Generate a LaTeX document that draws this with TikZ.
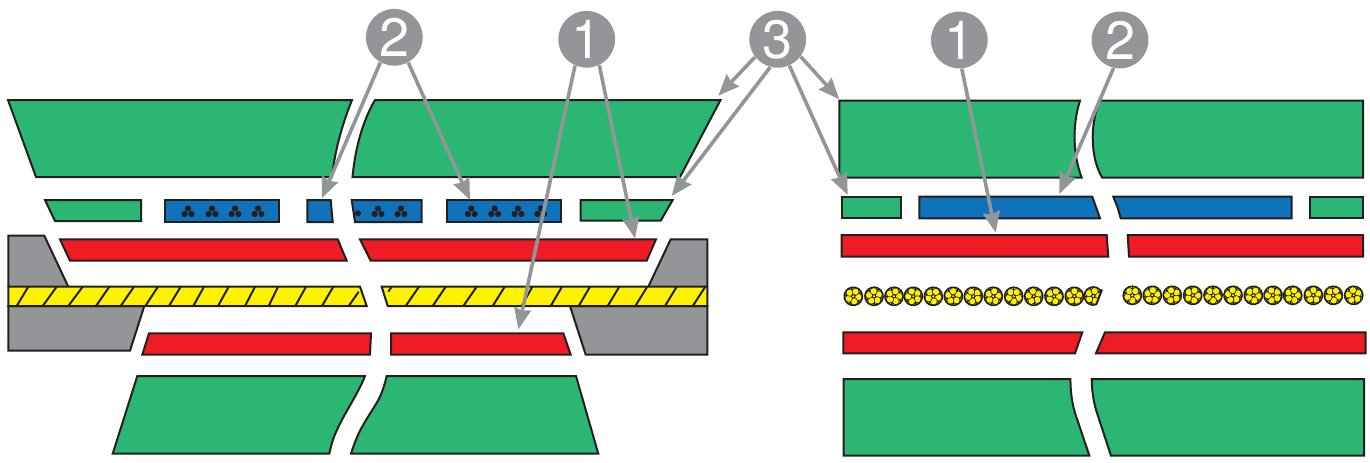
\documentclass[tikz,border=0pt]{standalone}
\usepackage{fontspec}
\setmainfont{TeX Gyre Heros}
\usetikzlibrary{arrows.meta}
\definecolor{gr}{HTML}{2BB673}
\definecolor{bl}{HTML}{1072BA}
\definecolor{rd}{HTML}{EF1C25}
\definecolor{ye}{HTML}{FFF200}
\definecolor{gy}{HTML}{939598}
\definecolor{ink}{HTML}{231F20}
\tikzset{
  part/.style={draw=ink,line width=1pt,line join=miter},
  greenpart/.style={part,fill=gr},
  bluepart/.style={part,fill=bl},
  redpart/.style={part,fill=rd},
  greypart/.style={part,fill=gy},
  yellowpart/.style={part,fill=ye},
  hatch/.style={draw=ink,line width=1pt},
  badge/.style={circle,fill=gy,minimum size=28.4pt,inner sep=0pt,text=white,font=\fontsize{27}{27}\selectfont},
  pointer/.style={draw=gy,line width=1.8pt,-{Stealth[length=10.5pt,width=8.5pt,inset=1pt]}},
  wiredot/.style={fill=ink,draw=none},
}
\newcommand{\triad}[1]{\begin{scope}[shift={#1}]
  \fill[wiredot] (0,-3.5) circle (3.1);
  \fill[wiredot] (-3.4,2) circle (3.1);
  \fill[wiredot] (3.4,2) circle (3.1);
\end{scope}}
\newcommand{\strand}[2]{\begin{scope}[shift={(#1)},rotate=#2]
  \fill[ink] (0,0) circle (9.9);
  \fill[ye] (0,0) circle (8.2);
  \foreach \a in {54,126,198,270,342} {\draw[draw=ink,line width=0.7pt] (\a:3.5) -- (\a:8.5);}
  \fill[ink] (0,0) circle (3);
  \fill[ye] (0,0) circle (1.3);
  \foreach \a in {18,90,162,234,306} {\fill[ink] (\a:5.1) circle (3.9);\fill[ye] (\a:5.1) circle (3.1);}
\end{scope}}
\begin{document}
\begin{tikzpicture}[x=0.5pt,y=-0.5pt]
\useasboundingbox (0,0) rectangle (1370,462);
% left: jacket top
\draw[greenpart] (8,100) -- (352,100) .. controls (342,125) and (335,150) .. (332,177) -- (36,177) -- cycle;
\draw[greenpart] (375,100) -- (720.5,100) -- (680,177) -- (352.5,177) .. controls (355,150) and (362,122) .. (375,100) -- cycle;
% left: second row
\draw[greenpart] (45,200) -- (141,200) -- (141,221) -- (55,221) -- cycle;
\draw[bluepart] (165,200) -- (279,200) -- (279,222) -- (165,222) -- cycle;
\draw[bluepart] (307.3,200) -- (330.7,200) -- (332.7,222) -- (307.3,222) -- cycle;
\draw[bluepart] (351.7,200) -- (421.7,200) -- (421.7,222) -- (355,222) -- cycle;
\draw[bluepart] (447.3,200) -- (561,200) -- (561,222) -- (447.3,222) -- cycle;
\draw[greenpart] (580.7,200) -- (672.7,200) -- (660.7,220.7) -- (580.7,220.7) -- cycle;
\foreach \x in {188,212,235,258,378,401,471.3,494.7,518,540.7} {\triad{(\x,212)}}
\fill[wiredot] (358,213.3) circle (3);
% left: red
\draw[redpart] (60,239.3) -- (337.7,239.3) -- (346.7,260.7) -- (70,260.7) -- cycle;
\draw[redpart] (360,239.3) -- (656,239.3) -- (646.7,260.7) -- (370.7,260.7) -- cycle;
% left: grey
\draw[greypart] (68.3,286.7) -- (44.3,235.7) -- (8.3,235.7) -- (8.3,286.7);
\draw[greypart] (8.3,306) -- (144.3,306) -- (130,350.7) -- (8.3,350.7) -- cycle;
\draw[greypart] (648.3,286.7) -- (670.7,239.3) -- (707.3,239.3) -- (707.3,286.7);
\draw[greypart] (570,306) -- (707.3,306) -- (707.3,354.7) -- (585.7,354.7) -- cycle;
% left: yellow
\draw[yellowpart] (8.3,286.7) -- (360,286.7) -- (366.7,306) -- (8.3,306) -- cycle;
\draw[yellowpart] (381.7,286.7) -- (707.3,286.7) -- (707.3,306) -- (387.7,306) -- cycle;
\foreach \b/\t in {16.7/28.3,42.7/56.7,68.3/82.7,96/109.3,120.7/134,145.3/158,169/180.7,193.3/204,218/228.7,245/255,268.7/278,295.3/306,322/333.3}
  {\draw[hatch] (\b,306) -- (\t,286.7);}
\draw[hatch] (348.7,306) -- (358.7,291.7);
\draw[hatch] (388.3,291.7) -- (391.7,286.7);
\foreach \b/\t in {405.7/419,432.7/445.7,463.3/476.7,492.7/504.7,521.7/532.3,550.7/562,578.7/590,607.7/619.3,635.3/647.3,665/676.7,692.7/705.3}
  {\draw[hatch] (\b,306) -- (\t,286.7);}
% left: lower red
\draw[redpart] (149,333.3) -- (371,333.3) -- (370,354.7) -- (142.3,354.7) -- cycle;
\draw[redpart] (391,333.3) -- (563.3,333.3) -- (570.7,354.7) -- (391,354.7) -- cycle;
% left: bottom jacket
\draw[greenpart] (137.3,376) -- (365,376) .. controls (358,394) and (345,412) .. (337,430) .. controls (333,438) and (331,446) .. (329.3,453.7) -- (112.7,453.7) -- cycle;
\draw[greenpart] (386.7,376) -- (576,376) -- (598.3,453.7) -- (351,453.7) .. controls (354,444) and (358,434) .. (362,427) .. controls (368,416) and (376,405) .. (380,396.7) .. controls (383,390) and (385,383) .. (386.7,376) -- cycle;
% right: top jacket
\draw[greenpart] (839.3,100.7) -- (1080,100.7) .. controls (1072,125) and (1073,155) .. (1081.7,177.7) -- (839.3,177.7) -- cycle;
\draw[greenpart] (1100,100.7) -- (1363,100.7) -- (1363,177.7) -- (1102.3,177.7) .. controls (1091,160) and (1089,125) .. (1100,100.7) -- cycle;
% right: second row
\draw[greenpart] (841.7,196.7) -- (900.7,196.7) -- (900.7,218.3) -- (841.7,218.3) -- cycle;
\draw[bluepart] (919.3,196.7) -- (1092.3,196.7) -- (1100,218.3) -- (919.3,218.3) -- cycle;
\draw[bluepart] (1113.3,196.7) -- (1291.7,196.7) -- (1291.7,218.3) -- (1120.7,218.3) -- (1117.5,207) -- cycle;
\draw[greenpart] (1310,196.7) -- (1363,196.7) -- (1363,218.3) -- (1310,218.3) -- cycle;
% right: red
\draw[redpart] (841.7,235) -- (1106.7,235) -- (1108.3,256.7) -- (841.7,256.7) -- cycle;
\draw[redpart] (1127.7,235) -- (1363,235) -- (1363,256.7) -- (1129,256.7) -- cycle;
% right: cable strands
\foreach \x/\r in {853.3/10,874/40,894/20,913.3/55,933.3/5,953.3/38,973.3/60,993.3/25,1013.7/0,1033.7/45,1054/15,1074.3/35}
  {\strand{\x,296.3}{\r}}
\begin{scope}
  \clip (1080,280) -- (1104,280) -- (1101.6,290) -- (1095.5,307) -- (1080,310) -- cycle;
  \strand{1093.3,296}{20}
\end{scope}
\draw[draw=ink,line width=1pt] (1102,289.5) -- (1096,305);
\foreach \x/\r in {1132.3/0,1152.3/30,1172.3/50,1192.7/15,1213/0,1233/40,1253.3/10,1273/55,1292.7/20,1313.3/35,1333.3/5,1353.7/45}
  {\strand{\x,295.3}{\r}}
% right: lower red
\draw[redpart] (843.3,332.3) -- (1082.3,332.3) -- (1075,353.3) -- (843.3,353.3) -- cycle;
\draw[redpart] (1105,332.3) -- (1365.7,332.3) -- (1365.7,353.3) -- (1096,353.3) -- cycle;
% right: bottom jacket
\draw[greenpart] (843.7,379) -- (1070.4,379) .. controls (1070.5,392) and (1072,403) .. (1075,413) -- (1089.3,455.5) -- (843.7,455.5) -- cycle;
\draw[greenpart] (1091.7,379) -- (1364,379) -- (1364,455.5) -- (1110.9,455.5) -- (1097,413) .. controls (1093.5,402) and (1092,392) .. (1091.7,379) -- cycle;
% pointer ends
\coordinate (t2a) at (321.7,198.3);
\coordinate (t2b) at (470,200);
\coordinate (t1a) at (635,238.3);
\coordinate (t1b) at (518.3,329.3);
\coordinate (t3a) at (718.3,95.7);
\coordinate (t3b) at (671.7,196);
\coordinate (t3c) at (839.3,99.3);
\coordinate (t3d) at (847.7,195);
\coordinate (t1c) at (995.7,232.7);
\coordinate (t2c) at (1059.3,194);
% badges
\node[badge] (b2) at (394.3,37.3) {2};
\node[badge] (b1) at (586.7,39.3) {1};
\node[badge] (b3) at (777.7,39.3) {3};
\node[badge] (c1) at (959.3,40) {1};
\node[badge] (c2) at (1120,40) {2};
% pointers
\draw[pointer] (b2.-119) -- (t2a);
\draw[pointer] (b2.-61) -- (t2b);
\draw[pointer] (b1.-64) -- (t1a);
\draw[pointer] (b1.-114.5) -- (t1b);
\draw[pointer] (b3.-142.5) -- (t3a);
\draw[pointer] (b3.-105.7) -- (t3b);
\draw[pointer] (b3.-37) -- (t3c);
\draw[pointer] (b3.-66.5) -- (t3d);
\draw[pointer] (c1.-85) -- (t1c);
\draw[pointer] (c2.-103.5) -- (t2c);
\end{tikzpicture}
\end{document}
